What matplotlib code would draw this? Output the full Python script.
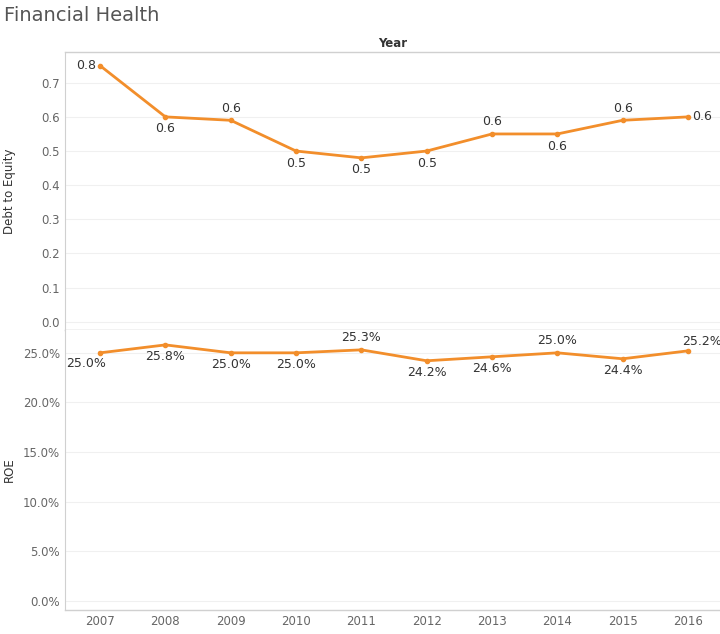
import matplotlib.pyplot as plt
from matplotlib.ticker import FuncFormatter

years = [2007, 2008, 2009, 2010, 2011, 2012, 2013, 2014, 2015, 2016]
debt_equity = [0.75, 0.60, 0.59, 0.50, 0.48, 0.50, 0.55, 0.55, 0.59, 0.60]
roe = [25.0, 25.8, 25.0, 25.0, 25.3, 24.2, 24.6, 25.0, 24.4, 25.2]
de_pos = ['left', 'below', 'above', 'below', 'below', 'below', 'above', 'below', 'above', 'right']
roe_pos = ['belowleft', 'below', 'below', 'below', 'above', 'below', 'below', 'above', 'below', 'aboveright']

orange = '#f28e2b'
plt.rcParams['font.family'] = ['DejaVu Sans']

fig = plt.figure(figsize=(7.2, 6.34), dpi=100)
ax1 = fig.add_axes([0.09, 0.4795, 0.91, 0.4385])
ax2 = fig.add_axes([0.09, 0.0379, 0.91, 0.4416])

offsets = {'left': (-3, 0, 'right', 'center'), 'right': (3, 0, 'left', 'center'),
           'above': (0, 4, 'center', 'bottom'), 'below': (0, -4, 'center', 'top'),
           'belowleft': (4, -3, 'right', 'top'), 'aboveright': (10, 2, 'center', 'bottom')}

def annotate(ax, xs, ys, pos, fmt):
    for x, y, p in zip(xs, ys, pos):
        dx, dy, ha, va = offsets[p]
        ax.annotate(fmt(y), (x, y), xytext=(dx, dy), textcoords='offset points',
                    ha=ha, va=va, fontsize=9, color='#333333')

for ax in (ax1, ax2):
    ax.set_xlim(2006.46, 2016.49)
    ax.grid(axis='y', color='#f0f0f0', lw=0.8)
    ax.set_axisbelow(True)
    for s in ('top', 'right', 'bottom'):
        ax.spines[s].set_visible(False)
    ax.spines['left'].set_color('#d0d0d0')
    ax.tick_params(length=0, labelsize=8.5, labelcolor='#666666')

ax1.plot(years, debt_equity, color=orange, lw=2, marker='o', ms=3)
annotate(ax1, years, debt_equity, de_pos, lambda v: f'{v:.1f}')
ax1.set_ylim(-0.024, 0.79)
ax1.set_yticks([0.0, 0.1, 0.2, 0.3, 0.4, 0.5, 0.6, 0.7])
ax1.set_xticks([])
ax1.set_ylabel('Debt to Equity', fontsize=8.5, color='#333333')
ax1.yaxis.set_label_coords(-0.075, 0.5)
ax1.axhline(0.79, color='#d0d0d0', lw=1, clip_on=False)
ax1.axhline(-0.024, color='#c0c0c0', lw=1, clip_on=False)

ax2.plot(years, roe, color=orange, lw=2, marker='o', ms=3)
annotate(ax2, years, roe, roe_pos, lambda v: f'{v:.1f}%')
ax2.set_ylim(-0.9, 27.3)
ax2.set_yticks([0, 5, 10, 15, 20, 25])
ax2.yaxis.set_major_formatter(FuncFormatter(lambda v, p: f'{v:.1f}%'))
ax2.set_xticks(years)
ax2.set_ylabel('ROE', fontsize=8.5, color='#333333')
ax2.yaxis.set_label_coords(-0.075, 0.5)
ax2.axhline(-0.9, color='#d0d0d0', lw=1, clip_on=False)

fig.text(0.005, 0.975, 'Financial Health', fontsize=14, color='#555555', va='center')
fig.text(0.545, 0.931, 'Year', fontsize=8.5, fontweight='bold', color='#333333', ha='center', va='center')

fig.savefig('out.png', dpi=100)
